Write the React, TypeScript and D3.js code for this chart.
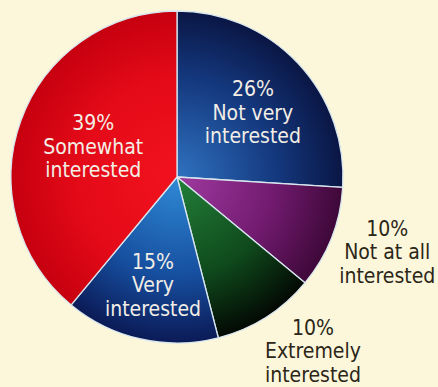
import React from "react";
import * as d3 from "d3";

const categories = [
  "Not very interested",
  "Not at all interested",
  "Extremely interested",
  "Very interested",
  "Somewhat interested",
];
const values = [26, 10, 10, 15, 39];
const labelLines = [
  ["Not very", "interested"],
  ["Not at all", "interested"],
  ["Extremely", "interested"],
  ["Very", "interested"],
  ["Somewhat", "interested"],
];

// layout / style (not data)
const W = 438;
const H = 387;
const CX = 177;
const CY = 177;
const R = 166;
const inside = [true, false, false, true, true];
const labelRadius = [100, 224, 222, 110, 89];
const labelNudge: [number, number][] = [
  [3, 3],
  [2, -8],
  [17, -14],
  [0, 0],
  [0, -1],
];
const gradStops: [string, string, string][] = [
  ["#2f72c0", "#14387e", "#0a1644"],
  ["#a03aa0", "#701a6e", "#3e0838"],
  ["#23803a", "#0f4a1c", "#030903"],
  ["#2f8ad6", "#164e9e", "#0b1a56"],
  ["#f2121e", "#e40a18", "#c6000f"],
];

export default function App() {
  const pie = d3
    .pie<number>()
    .sort(null)
    .value((d) => d);
  const arcs = pie(values);
  const arc = d3.arc<d3.PieArcDatum<number>>().innerRadius(0).outerRadius(R);
  const font = "'DejaVu Sans Condensed', 'DejaVu Sans', sans-serif";
  const lineH = 23.5;

  return (
    <svg
      width={W}
      height={H}
      style={{ position: "absolute", left: 0, top: 0, display: "block" }}
    >
      <defs>
        {gradStops.map((s, i) => (
          <radialGradient
            key={i}
            id={`g${i}`}
            gradientUnits="userSpaceOnUse"
            cx={0}
            cy={0}
            r={R}
          >
            <stop offset="0%" stopColor={s[0]} />
            <stop offset="60%" stopColor={s[1]} />
            <stop offset="100%" stopColor={s[2]} />
          </radialGradient>
        ))}
      </defs>
      <rect x={0} y={0} width={W} height={H} fill="#fcf7da" />
      <g transform={`translate(${CX},${CY})`}>
        {arcs.map((a, i) => (
          <path
            key={categories[i]}
            d={arc(a) || ""}
            fill={`url(#g${i})`}
            stroke="#d8e6ef"
            strokeWidth={1.3}
            strokeLinejoin="round"
          />
        ))}
        {arcs.map((a, i) => {
          const lr = labelRadius[i];
          const [x0, y0] = d3
            .arc<d3.PieArcDatum<number>>()
            .innerRadius(lr)
            .outerRadius(lr)
            .centroid(a);
          const x = x0 + labelNudge[i][0];
          const y = y0 + labelNudge[i][1];
          const lines = [`${values[i]}%`, ...labelLines[i]];
          return (
            <text
              key={`l${i}`}
              x={x}
              y={y}
              textAnchor="middle"
              fontFamily={font}
              fontSize={21}
              fill={inside[i] ? "#f2eee6" : "#2b2618"}
            >
              {lines.map((t, j) => (
                <tspan key={j} x={x} y={y + (j - 1) * lineH + 8}>
                  {t}
                </tspan>
              ))}
            </text>
          );
        })}
      </g>
    </svg>
  );
}
